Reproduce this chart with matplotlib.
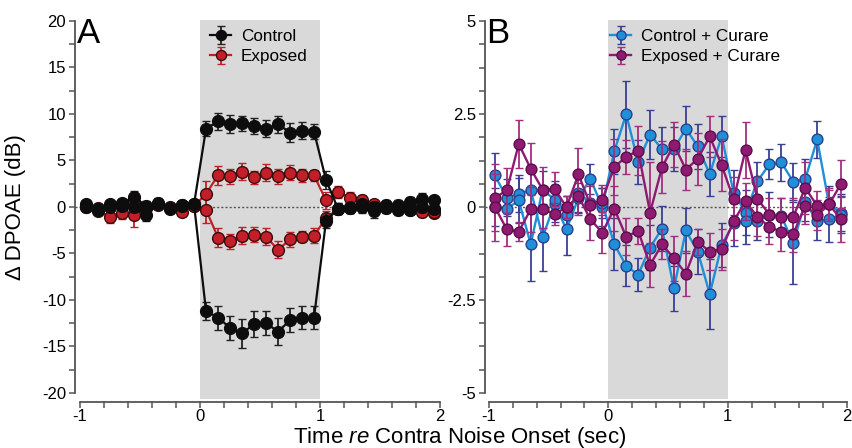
import numpy as np
import matplotlib
matplotlib.use("Agg")
import matplotlib.pyplot as plt
from matplotlib.ticker import MultipleLocator, FixedLocator

plt.rcParams['font.family'] = ['Liberation Sans', 'DejaVu Sans']
plt.rcParams['axes.unicode_minus'] = False
plt.rcParams['mathtext.fontset'] = 'custom'
plt.rcParams['mathtext.it'] = 'Liberation Sans:italic'
plt.rcParams['mathtext.rm'] = 'Liberation Sans'

# ---------------- data ----------------
time = np.round(np.arange(-0.95, 2.0, 0.1), 2)  # bin centres (sec)

# Panel A
control_up = [0.3, -0.3, 0.3, 0.4, 1.1, 0.1, 0.4, -0.2, 0.2, 0.3,
              8.4, 9.2, 8.9, 9.0, 8.7, 8.4, 8.9, 8.0, 8.2, 8.1,
              2.9, -0.2, -0.1, 0.0, -0.4, 0.2, -0.3, 0.5, 0.9, 0.7]
control_up_err = [0.5, 0.4, 0.5, 0.5, 0.6, 0.5, 0.6, 0.4, 0.4, 0.4,
                  0.8, 0.9, 1.0, 0.8, 0.9, 0.9, 0.9, 1.0, 0.9, 0.8,
                  1.0, 0.6, 0.5, 0.6, 0.8, 0.5, 0.6, 0.6, 0.6, 0.5]
control_down = [0.0, -0.2, 0.0, 0.1, 0.0, -0.9, 0.3, -0.1, 0.1, 0.3,
                -11.2, -11.9, -13.0, -13.6, -12.6, -12.5, -13.4, -12.2, -11.9, -11.9,
                -1.5, -0.2, -0.1, 0.3, 0.0, -0.1, 0.1, -0.3, 0.0, -0.2]
control_down_err = [0.4, 0.4, 0.4, 0.4, 0.5, 0.6, 0.4, 0.4, 0.4, 0.4,
                    1.0, 1.3, 1.3, 1.6, 1.4, 1.3, 1.5, 1.3, 1.2, 1.2,
                    0.8, 0.6, 0.6, 0.5, 0.5, 0.5, 0.6, 0.5, 0.5, 0.5]
exposed_up = [0.1, -0.1, 0.1, 0.2, 0.5, 0.0, 0.3, 0.0, 0.2, 0.1,
              1.4, 3.4, 3.3, 3.8, 3.2, 3.7, 3.3, 3.7, 3.4, 3.4,
              0.7, 1.6, 1.0, 0.8, 0.3, 0.1, 0.2, 0.0, -0.4, -0.6]
exposed_up_err = [0.3, 0.4, 0.5, 0.4, 0.5, 0.4, 0.4, 0.3, 0.3, 0.3,
                  1.4, 1.0, 0.8, 0.9, 0.7, 0.9, 0.8, 0.8, 0.7, 0.6,
                  0.9, 0.6, 0.6, 0.5, 0.4, 0.4, 0.4, 0.4, 0.5, 0.4]
exposed_down = [0.0, -0.4, -1.1, -0.7, -0.9, -0.1, 0.2, -0.1, -0.5, 0.1,
                -0.3, -3.3, -3.7, -3.1, -3.0, -3.2, -4.6, -3.5, -3.2, -3.1,
                -1.2, -0.2, 0.0, 0.1, 0.0, 0.0, -0.2, -0.3, -0.5, -0.5]
exposed_down_err = [0.4, 0.5, 0.6, 0.6, 1.3, 0.4, 0.4, 0.4, 0.5, 0.4,
                    1.4, 1.0, 0.8, 0.9, 0.8, 0.9, 0.9, 0.8, 0.6, 0.8,
                    0.8, 0.5, 0.5, 0.5, 0.5, 0.5, 0.5, 0.5, 0.6, 0.6]

# Panel B
ctrl_cur_up = [0.85, 0.25, 0.36, 0.46, -0.81, 0.09, -0.6, 0.25, 0.76, 0.0,
               1.5, 2.5, 1.21, 1.95, 1.56, 1.56, 2.11, 1.63, 0.89, 1.9,
               0.39, -0.15, 0.7, 1.15, 1.2, 0.68, 0.75, 1.82, 0.07, -0.15]
ctrl_cur_up_err = [0.6, 0.5, 0.5, 0.5, 0.9, 0.5, 0.7, 0.4, 0.4, 0.5,
                   0.6, 0.9, 0.6, 0.65, 0.6, 0.6, 0.6, 0.6, 0.6, 0.55,
                   0.6, 0.6, 0.5, 0.4, 0.5, 0.5, 0.55, 0.5, 0.5, 0.5]
ctrl_cur_down = [0.0, -0.05, 0.18, -1.0, 0.47, 0.2, -0.2, 0.38, 0.12, 0.1,
                 -1.0, -1.58, -1.82, -1.09, -0.58, -2.19, -0.63, -1.2, -2.34, -1.02,
                 -0.44, -0.38, -0.38, -0.2, -0.25, -0.96, 0.13, -0.38, -0.33, -0.2]
ctrl_cur_down_err = [0.5, 0.5, 0.6, 1.0, 0.5, 0.5, 0.5, 0.5, 0.5, 0.4,
                     0.7, 0.55, 0.45, 0.6, 0.6, 0.6, 0.6, 0.6, 0.95, 0.6,
                     0.6, 0.6, 0.5, 0.6, 0.5, 1.1, 0.5, 0.5, 0.6, 0.5]
exp_cur_up = [0.25, 0.45, 1.7, 1.03, 0.47, 0.49, 0.0, 0.88, 0.06, 0.2,
              1.08, 1.35, 1.52, -0.15, 1.07, 1.68, 1.01, 1.3, 1.9, 1.13,
              0.21, 1.54, 0.22, -0.2, -0.26, -0.26, 0.52, 0.03, 0.07, 0.63]
exp_cur_up_err = [0.9, 0.6, 0.65, 0.7, 0.6, 0.45, 0.3, 0.7, 0.5, 0.4,
                  0.75, 0.45, 0.65, 1.35, 0.7, 0.6, 0.55, 0.7, 0.55, 0.7,
                  0.6, 0.75, 0.6, 0.45, 0.5, 0.5, 0.7, 0.4, 0.45, 0.65]
exp_cur_down = [0.0, -0.6, -0.66, -0.06, -0.05, -0.19, 0.0, 0.29, -0.33, -0.69,
                -0.04, -0.8, -0.64, -1.56, -1.0, -1.38, -1.79, -0.93, -1.2, -1.13,
                -0.38, 0.16, -0.27, -0.53, -0.67, -0.72, 0.04, -0.22, 0.07, -0.33]
exp_cur_down_err = [0.9, 0.45, 0.25, 0.6, 0.5, 0.3, 0.3, 0.5, 0.55, 0.55,
                    0.6, 0.5, 0.35, 0.6, 0.4, 0.6, 0.6, 0.35, 0.5, 0.55,
                    0.5, 0.5, 0.5, 0.45, 0.5, 0.5, 0.5, 0.4, 0.4, 0.6]

# ---------------- figure ----------------
W, H = 853, 448
fig = plt.figure(figsize=(W / 100, H / 100), dpi=100)

def px_box(l, r, t, b):
    return [l / W, 1 - b / H, (r - l) / W, (b - t) / H]

axA = fig.add_axes(px_box(75, 440, 20.5, 398.5))
axB = fig.add_axes(px_box(485, 847, 20.5, 398.5))

GRAY = '#d9d9d9'
TICK_FS = 12

def style_axis(ax, xlim, ylim, ybounds, ymajor, yminor):
    ax.set_xlim(*xlim)
    ax.set_ylim(*ylim)
    ax.axvspan(0, 1, color=GRAY, zorder=0, lw=0)
    ax.axhline(0, color='#555555', ls=(0, (1.5, 1.5)), lw=1.0, zorder=1)
    for s in ['top', 'right']:
        ax.spines[s].set_visible(False)
    ax.spines['left'].set_bounds(*ybounds)
    ax.spines['bottom'].set_bounds(-1, 2)
    ax.spines['bottom'].set_position(('outward', 2.5))
    for s in ['left', 'bottom']:
        ax.spines[s].set_color('#555555')
        ax.spines[s].set_linewidth(1.3)
    ax.xaxis.set_major_locator(FixedLocator([-1, 0, 1, 2]))
    ax.xaxis.set_minor_locator(MultipleLocator(0.2))
    ax.yaxis.set_major_locator(MultipleLocator(ymajor))
    ax.yaxis.set_minor_locator(MultipleLocator(yminor))
    ax.tick_params(which='both', direction='out', length=4.5, width=1.1,
                   color='#555555', labelsize=TICK_FS)
    ax.tick_params(axis='y', pad=2)
    ax.tick_params(axis='x', pad=0.5)
    ax.set_facecolor('none')

style_axis(axA, (-1.042, 2.0), (-20.6, 20.05), (-20, 20), 5, 2.5)
style_axis(axB, (-1.033, 2.0), (-5.15, 5.02), (-5, 5), 2.5, 0.625)
axB.set_yticks([-5, -2.5, 0, 2.5, 5])
axB.set_yticklabels(['-5', '-2.5', '0', '2.5', '5'])

def series(ax, y, e, line_c, face_c, edge_c, err_c, label=None, z=3, ms=8.5, lw=1.6):
    ax.errorbar(time, y, yerr=e, fmt='-o', color=line_c, lw=lw,
                ms=ms, mfc=face_c, mec=edge_c, mew=1.0,
                ecolor=err_c, elinewidth=1.3, capsize=3.2, capthick=1.3,
                zorder=z, label=label)

RED, RED_EDGE = '#c41f28', '#3b0c0c'
BLACK = '#0d0d0d'
series(axA, exposed_up, exposed_up_err, RED, RED, RED_EDGE, RED, label='Exposed', z=3)
series(axA, exposed_down, exposed_down_err, RED, RED, RED_EDGE, RED, z=3)
series(axA, control_up, control_up_err, BLACK, BLACK, BLACK, '#222222', label='Control', z=4)
series(axA, control_down, control_down_err, BLACK, BLACK, BLACK, '#222222', z=4)

BLUE, BLUE_EDGE, BLUE_ERR = '#1f8fd8', '#2b3f8f', '#3a3f94'
PURP, PURP_EDGE, PURP_ERR = '#8e1a72', '#5a0f4a', '#a0307f'
series(axB, ctrl_cur_up, ctrl_cur_up_err, BLUE, BLUE, BLUE_EDGE, BLUE_ERR, label='Control + Curare', z=3, ms=7.8, lw=1.7)
series(axB, ctrl_cur_down, ctrl_cur_down_err, BLUE, BLUE, BLUE_EDGE, BLUE_ERR, z=3, ms=7.8, lw=1.7)
series(axB, exp_cur_up, exp_cur_up_err, PURP, PURP, PURP_EDGE, PURP_ERR, label='Exposed + Curare', z=4, ms=7.8, lw=1.7)
series(axB, exp_cur_down, exp_cur_down_err, PURP, PURP, PURP_EDGE, PURP_ERR, z=4, ms=7.8, lw=1.7)

def legend(ax, order, x_px, y_px):
    h, l = ax.get_legend_handles_labels()
    hs = [h[l.index(o)] for o in order]
    lg = ax.legend(hs, order, loc='upper left',
                   bbox_to_anchor=(x_px / W, 1 - y_px / H), bbox_transform=fig.transFigure,
                   frameon=False, fontsize=12.3, handlelength=1.25, handletextpad=0.55,
                   labelspacing=0.3, borderpad=0, borderaxespad=0, markerscale=0.85)
    return lg

legend(axA, ['Control', 'Exposed'], 210, 29)
legend(axB, ['Control + Curare', 'Exposed + Curare'], 610, 29)

fig.text(77 / W, 1 - 43 / H, 'A', fontsize=25, ha='left', va='baseline')
fig.text(486 / W, 1 - 43 / H, 'B', fontsize=25, ha='left', va='baseline')

fig.text(16 / W, 1 - 207 / H, '\u0394 DPOAE (dB)', rotation=90, fontsize=16,
         ha='center', va='center')
fig.text(460 / W, 1 - 437 / H, r'Time $\mathit{re}$ Contra Noise Onset (sec)',
         fontsize=16, ha='center', va='center')

fig.savefig('out.png', dpi=100)
